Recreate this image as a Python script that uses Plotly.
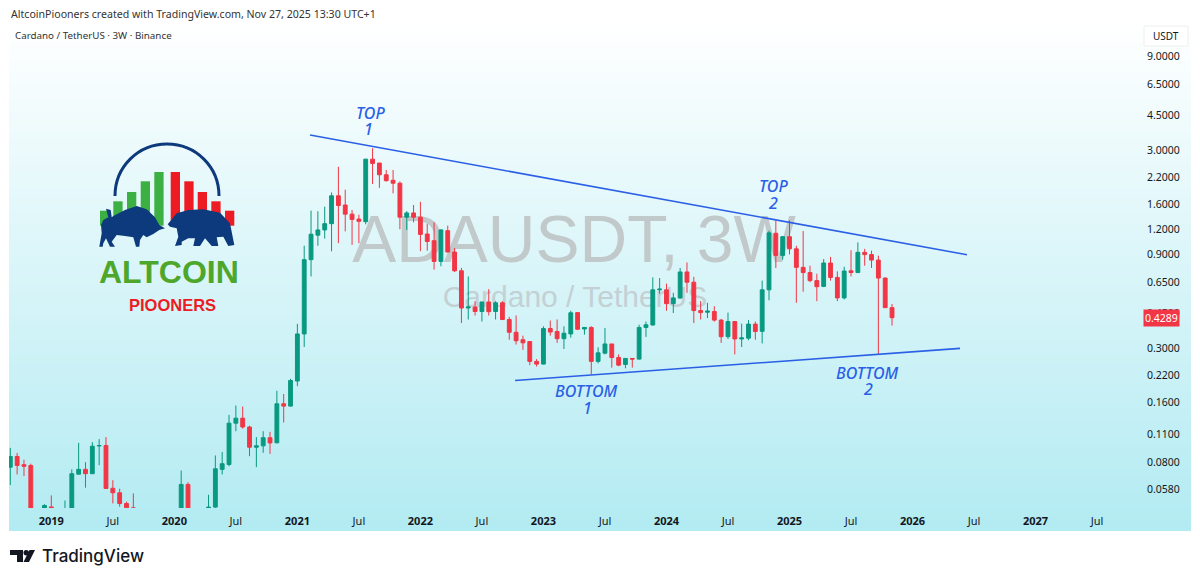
"""ADAUSDT 3W TradingView snapshot, rebuilt with plotly."""
import plotly.graph_objects as go

GREEN = "#089981"
RED = "#f23645"
BLUE = "#2a5fe6"
NAVY = "#0d3a7c"
TEXT = "#131722"
FONT = "Noto Sans"

opens = [.0754, .0854, .0776, .0769, .042, .044, .0475, .042, .044, .046,
         .0695, .0735, .0699, .0965, .0970, .059, .056, .0494, .047, .043,
         .041, .038, .040, .037, .039, .038, .0617, .040, .036, .045,
         .0474, .0735, .0778, .1258, .1333, .1203, .0951, .0966, .1062, .1001,
         .1576, .1534, .2053, .355, .842, 1.12, 1.19, 1.28, 1.77, 1.59,
         1.43, 1.35, 1.31, 2.71, 2.59, 2.26, 2.12, 2.05, 1.38, 1.45,
         1.38, 1.135, 1.05, .825, 1.18, .92, .74, .48, .486, .461,
         .515, .461, .51, .42, .362, .332, .325, .258, .25, .378,
         .365, .336, .355, .455, .376, .383, .258, .284, .316, .27,
         .249, .267, .265, .383, .394, .593, .593, .505, .539, .73,
         .648, .466, .457, .461, .417, .344, .41, .335, .338, .398,
         .366, .593, 1.145, .885, 1.10, .955, .77, .725, .66, .617,
         .81, .685, .54, .74, .725, .917, .893, .838, .68, .482]
highs = [.0944, .0890, .0822, .0785, .045, .0490, .0543, .046, .0512, .0735,
         .100, .0799, .1008, .1045, .107, .0648, .0587, .0505, .0556, .046,
         .044, .042, .043, .041, .042, .0725, .0633, .044, .044, .0547,
         .0864, .0900, .1386, .1545, .1525, .122, .1070, .1146, .1137, .1834,
         .1765, .2107, .399, .99, 1.49, 1.48, 1.56, 1.84, 2.48, 1.90,
         1.50, 1.42, 2.72, 3.08, 2.59, 2.39, 2.39, 2.09, 1.48, 1.59,
         1.65, 1.28, 1.30, 1.20, 1.25, .965, .765, .693, .52, .515,
         .598, .52, .52, .433, .44, .348, .327, .265, .388, .415,
         .42, .388, .465, .455, .383, .388, .304, .38, .316, .28,
         .267, .267, .395, .41, .685, .68, .637, .573, .765, .815,
         .69, .52, .51, .49, .423, .455, .41, .40, .417, .41,
         .66, 1.18, 1.33, 1.11, 1.33, .99, 1.175, .785, .715, .848,
         .87, .735, .775, .94, 1.03, .955, .935, .882, .685, .503]
lows = [.0612, .0693, .068, .040, .036, .04, .04, .038, .042, .044,
        .0695, .0594, .0699, .0772, .0585, .0495, .0476, .044, .042, .038,
        .036, .035, .036, .034, .035, .037, .038, .034, .030, .030,
        .045, .0693, .0762, .1146, .118, .0857, .0754, .0891, .0880, .0995,
        .1268, .1525, .1934, .305, .693, .99, 1.075, .928, 1.02, 1.17,
        1.00, 1.02, 1.27, 2.03, 1.94, 2.09, 1.82, 1.20, 1.19, 1.30,
        .93, .935, .75, .78, .92, .73, .403, .42, .44, .41,
        .44, .42, .417, .332, .314, .295, .247, .243, .249, .348,
        .32, .298, .34, .372, .352, .222, .252, .28, .24, .244,
        .238, .24, .263, .343, .391, .567, .465, .453, .535, .573,
        .403, .42, .427, .41, .32, .335, .28, .305, .33, .332,
        .318, .525, .765, .842, .895, .51, .58, .648, .52, .612,
        .66, .52, .53, .693, .72, .785, .765, .28, .48, .391]
closes = [.0854, .0769, .0762, .042, .040, .0483, .042, .044, .046, .0699,
          .0735, .0699, .0962, .0970, .0589, .056, .0494, .047, .043, .041,
          .038, .040, .037, .039, .038, .0617, .040, .036, .045, .0474,
          .0740, .0785, .1258, .1333, .1203, .0951, .0966, .1062, .1000, .1576,
          .1534, .2066, .355, .842, 1.132, 1.19, 1.28, 1.77, 1.58, 1.43,
          1.345, 1.315, 2.71, 2.58, 2.26, 2.11, 2.05, 1.38, 1.45, 1.38,
          1.13, 1.04, .825, 1.19, .92, .74, .48, .486, .461, .515,
          .46, .51, .42, .362, .328, .32, .258, .25, .378, .363,
          .336, .358, .454, .375, .383, .258, .285, .316, .27, .247,
          .267, .265, .383, .395, .593, .598, .505, .54, .73, .648,
          .466, .455, .463, .417, .344, .41, .335, .339, .398, .365,
          .593, 1.15, .885, 1.10, .955, .77, .725, .66, .615, .81,
          .685, .54, .738, .725, .917, .893, .838, .68, .482, .4289]
bar_index = list(range(len(closes)))

tick_index = [6, 15, 24, 33, 42, 51, 60, 69, 78, 87, 96, 105, 114, 123, 132, 141, 150, 159]
tick_names = ["<b>2019</b>", "Jul", "<b>2020</b>", "Jul", "<b>2021</b>", "Jul", "<b>2022</b>", "Jul",
              "<b>2023</b>", "Jul", "<b>2024</b>", "Jul", "<b>2025</b>", "Jul", "<b>2026</b>", "Jul",
              "<b>2027</b>", "Jul"]
price_ticks = [9, 6.5, 4.5, 3, 2.2, 1.6, 1.2, .9, .65, .45, .3, .22, .16, .11, .08, .058]

# trendlines: bar index / price at each end
top_line_x, top_line_y = [43.85, 139.97], [3.59, .891]
bottom_line_x, bottom_line_y = [73.85, 138.95], [.2066, .30]

# the page body has an 8px margin, so the figure is 1184x565 and starts at (8, 8)
PAGE_W, PAGE_H, BODY = 1184, 565, 8


def xfrac(px):
    return (px - BODY) / PAGE_W


def yfrac(py):
    return 1 - (py - BODY) / PAGE_H


fig = go.Figure()

# x/y: gradient panel, x2/y2: overlay in screenshot pixels, x3/y3: the chart itself
fig.add_trace(go.Heatmap(
    x=[9, 1191], y=[22, 531], z=[[0, 0], [1, 1]], zsmooth="best",
    colorscale=[[0, "#ffffff"], [1, "#b2ebf2"]], showscale=False, hoverinfo="skip",
))
fig.add_trace(go.Scatter(
    x=[574, 575], y=[245, 299], mode="text",
    text=["ADAUSDT, 3W", "Cardano / TetherUS"],
    textfont=dict(family="Liberation Sans", size=[66, 30], color=["#c1c9cb", "#c3d0d4"]),
    hoverinfo="skip", xaxis="x2", yaxis="y2",
))

# candles
fig.add_trace(go.Candlestick(
    x=bar_index, open=opens, high=highs, low=lows, close=closes,
    increasing=dict(line=dict(color=GREEN, width=1), fillcolor=GREEN),
    decreasing=dict(line=dict(color=RED, width=1), fillcolor=RED),
    xaxis="x3", yaxis="y3",
))
for lx, ly in [(top_line_x, top_line_y), (bottom_line_x, bottom_line_y)]:
    fig.add_trace(go.Scatter(x=lx, y=ly, mode="lines", line=dict(color=BLUE, width=1.6),
                             xaxis="x3", yaxis="y3", hoverinfo="skip"))

# ── logo ──────────────────────────────────────────────────────────────────────
shapes = []
def add_shape(**kw):
    shapes.append(dict(xref="x2", yref="y2", layer="above", **kw))

def outline(points):
    # logo points were measured on a 3x crop starting at y=130
    return "M" + " L".join(f"{x / 3:.1f},{130 + y / 3:.1f}" for x, y in points) + " Z"

bar_left = [100, 113.3, 127, 140.7, 154.3, 170.7, 184.3, 197.7, 211.3, 225]
bar_top = [210.7, 201.3, 192, 181.3, 172, 172, 181.3, 192, 201.3, 210.7]
for i, (left, top) in enumerate(zip(bar_left, bar_top)):
    add_shape(type="rect", x0=left, x1=left + 9.3, y0=top, y1=225.7, line_width=0,
              fillcolor="#3cb043" if i < 5 else "#ed1c24")
add_shape(type="path", path="M115,196 C115,167 138,144 167,144 C196,144 219,167 219,196",
          line=dict(color=NAVY, width=3))
bull = [(318, 236), (332, 240), (335, 262), (340, 258), (375, 240), (410, 228), (440, 238), (465, 262),
        (478, 285), (495, 295), (478, 300), (460, 312), (440, 322), (430, 315), (420, 330), (418, 350),
        (408, 350), (400, 322), (375, 318), (350, 315), (335, 335), (345, 350), (330, 350), (318, 325),
        (310, 340), (308, 350), (298, 350), (305, 310), (303, 285), (310, 270), (325, 262)]
bear = [(503, 283), (530, 250), (565, 240), (610, 238), (660, 248), (690, 280), (703, 345), (685, 348),
        (670, 320), (650, 322), (655, 348), (635, 348), (615, 325), (600, 348), (580, 348), (585, 325),
        (565, 325), (545, 335), (545, 345), (525, 348), (535, 320), (530, 295), (510, 290)]
add_shape(type="path", path=outline(bull), fillcolor=NAVY, line_width=0)
add_shape(type="path", path=outline(bear), fillcolor=NAVY, line_width=0)

# TradingView mark in the footer
add_shape(type="path", path="M10,550 L23,550 L23,562 L17,562 L17,555 L10,555 Z", fillcolor=TEXT, line_width=0)
add_shape(type="circle", x0=23.5, x1=29, y0=550, y1=555.5, fillcolor=TEXT, line_width=0)
add_shape(type="path", path="M29.5,550 L35,550 L29,562 L23.5,562 Z", fillcolor=TEXT, line_width=0)

# USDT button
add_shape(type="rect", x0=1144, x1=1188, y0=26, y1=46, fillcolor="#ffffff", line=dict(color="#eeeeee", width=1))

# ── text ──────────────────────────────────────────────────────────────────────
notes = []
def add_note(x, y, text, size=11, color=TEXT, family=FONT, anchor="center", style="normal", weight=400):
    notes.append(dict(xref="x2", yref="y2", x=x, y=y, text=text, showarrow=False, xanchor=anchor,
                      yanchor="middle", font=dict(family=family, size=size, color=color,
                                                  style=style, weight=weight)))

add_note(9, 14, "AltcoinPiooners created with TradingView.com, Nov 27, 2025 13:30 UTC+1", size=10.6, anchor="left", color="#333333")
add_note(13, 35, "Cardano / TetherUS · 3W · Binance", anchor="left", color="#333333", size=9.8)
add_note(40, 556, "TradingView", size=17, anchor="left", family="Inter", weight=500)
add_note(169, 272, "<b>ALTCOIN</b>", size=32, color="#4ea72a", family="Liberation Sans")
add_note(172, 305, "<b>PIOONERS</b>", size=16.5, color="#ed1c24", family="Liberation Sans")
for x, y, label in [(370, 113, "TOP"), (368, 129, "1"), (773, 186, "TOP"), (773, 203, "2"),
                    (586, 391, "BOTTOM"), (587, 408, "1"), (867, 373, "BOTTOM"), (868, 389, "2")]:
    add_note(x, y, label, size=16, color=BLUE, style="italic", weight=500)
add_note(1166, 36, "USDT", size=10)
notes.append(dict(xref="paper", yref="y3", x=xfrac(1161.5), y=-0.3677, xanchor="center", text=f"{closes[-1]:.4f}",
                  showarrow=False, font=dict(family=FONT, size=10.5, color="#ffffff"), bgcolor=RED, borderpad=1))

axis_off = dict(visible=False, showgrid=False, zeroline=False, fixedrange=True)
fig.update_layout(
    width=PAGE_W, height=PAGE_H, margin=dict(l=0, r=0, t=0, b=0), showlegend=False,
    paper_bgcolor="#ffffff", plot_bgcolor="rgba(0,0,0,0)", boxgap=0.2,
    xaxis=dict(domain=[xfrac(9), xfrac(1191)], range=[9, 1191], **axis_off),
    yaxis=dict(domain=[yfrac(531), yfrac(22)], range=[531, 22], **axis_off),
    xaxis2=dict(domain=[0, 1], range=[BODY, BODY + PAGE_W], anchor="y2", **axis_off),
    yaxis2=dict(domain=[0, 1], range=[BODY + PAGE_H, BODY], anchor="x2", **axis_off),
    xaxis3=dict(
        domain=[xfrac(9), xfrac(1191)], range=[-0.19, 172.74], anchor="free", position=yfrac(513),
        tickmode="array", tickvals=tick_index, ticktext=tick_names,
        tickfont=dict(family=FONT, size=11, color=TEXT), ticks="", showgrid=False, zeroline=False,
        rangeslider=dict(visible=False),
    ),
    yaxis3=dict(
        domain=[yfrac(508), yfrac(22)], type="log", range=[-1.3288, 1.1257],
        anchor="free", position=xfrac(1146), side="right",
        tickmode="array", tickvals=price_ticks, ticktext=[f"{v:.4f}" for v in price_ticks],
        tickfont=dict(family=FONT, size=10.5, color=TEXT), ticks="", showgrid=False, zeroline=False,
    ),
    shapes=shapes, annotations=notes,
)

fig.write_html("out.html")
